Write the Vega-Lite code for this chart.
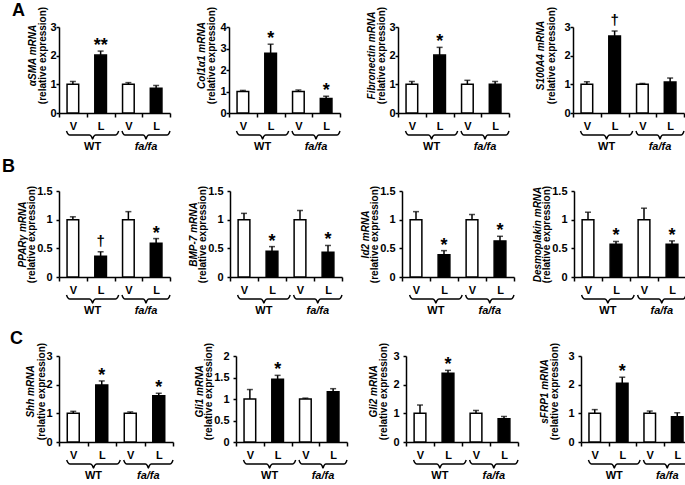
{
  "$schema": "https://vega.github.io/schema/vega-lite/v6.json",
  "background": "white",
  "padding": {"left": 1, "top": 2, "right": 0, "bottom": 0},
  "datasets": {
    "expr": [
      {"panel": "A1", "cond": "WT V", "treat": "V", "mean": 1.0, "upper": 1.1, "sig": ""},
      {"panel": "A1", "cond": "WT L", "treat": "L", "mean": 2.02, "upper": 2.16, "sig": "**"},
      {"panel": "A1", "cond": "fa/fa V", "treat": "V", "mean": 1.0, "upper": 1.06, "sig": ""},
      {"panel": "A1", "cond": "fa/fa L", "treat": "L", "mean": 0.86, "upper": 0.96, "sig": ""},
      {"panel": "A2", "cond": "WT V", "treat": "V", "mean": 1.0, "upper": 1.05, "sig": ""},
      {"panel": "A2", "cond": "WT L", "treat": "L", "mean": 2.78, "upper": 3.2, "sig": "*"},
      {"panel": "A2", "cond": "fa/fa V", "treat": "V", "mean": 1.0, "upper": 1.07, "sig": ""},
      {"panel": "A2", "cond": "fa/fa L", "treat": "L", "mean": 0.68, "upper": 0.78, "sig": "*"},
      {"panel": "A3", "cond": "WT V", "treat": "V", "mean": 1.0, "upper": 1.1, "sig": ""},
      {"panel": "A3", "cond": "WT L", "treat": "L", "mean": 2.02, "upper": 2.29, "sig": "*"},
      {"panel": "A3", "cond": "fa/fa V", "treat": "V", "mean": 1.0, "upper": 1.14, "sig": ""},
      {"panel": "A3", "cond": "fa/fa L", "treat": "L", "mean": 1.0, "upper": 1.1, "sig": ""},
      {"panel": "A4", "cond": "WT V", "treat": "V", "mean": 1.0, "upper": 1.09, "sig": ""},
      {"panel": "A4", "cond": "WT L", "treat": "L", "mean": 2.69, "upper": 2.86, "sig": "†"},
      {"panel": "A4", "cond": "fa/fa V", "treat": "V", "mean": 1.0, "upper": 1.03, "sig": ""},
      {"panel": "A4", "cond": "fa/fa L", "treat": "L", "mean": 1.08, "upper": 1.22, "sig": ""},
      {"panel": "B1", "cond": "WT V", "treat": "V", "mean": 1.0, "upper": 1.05, "sig": ""},
      {"panel": "B1", "cond": "WT L", "treat": "L", "mean": 0.36, "upper": 0.44, "sig": "†"},
      {"panel": "B1", "cond": "fa/fa V", "treat": "V", "mean": 1.0, "upper": 1.14, "sig": ""},
      {"panel": "B1", "cond": "fa/fa L", "treat": "L", "mean": 0.59, "upper": 0.67, "sig": "*"},
      {"panel": "B2", "cond": "WT V", "treat": "V", "mean": 1.0, "upper": 1.11, "sig": ""},
      {"panel": "B2", "cond": "WT L", "treat": "L", "mean": 0.45, "upper": 0.53, "sig": "*"},
      {"panel": "B2", "cond": "fa/fa V", "treat": "V", "mean": 1.0, "upper": 1.16, "sig": ""},
      {"panel": "B2", "cond": "fa/fa L", "treat": "L", "mean": 0.43, "upper": 0.55, "sig": "*"},
      {"panel": "B3", "cond": "WT V", "treat": "V", "mean": 1.0, "upper": 1.14, "sig": ""},
      {"panel": "B3", "cond": "WT L", "treat": "L", "mean": 0.39, "upper": 0.46, "sig": "*"},
      {"panel": "B3", "cond": "fa/fa V", "treat": "V", "mean": 1.0, "upper": 1.09, "sig": ""},
      {"panel": "B3", "cond": "fa/fa L", "treat": "L", "mean": 0.63, "upper": 0.71, "sig": "*"},
      {"panel": "B4", "cond": "WT V", "treat": "V", "mean": 1.0, "upper": 1.13, "sig": ""},
      {"panel": "B4", "cond": "WT L", "treat": "L", "mean": 0.57, "upper": 0.62, "sig": "*"},
      {"panel": "B4", "cond": "fa/fa V", "treat": "V", "mean": 1.0, "upper": 1.2, "sig": ""},
      {"panel": "B4", "cond": "fa/fa L", "treat": "L", "mean": 0.57, "upper": 0.63, "sig": "*"},
      {"panel": "C1", "cond": "WT V", "treat": "V", "mean": 1.0, "upper": 1.07, "sig": ""},
      {"panel": "C1", "cond": "WT L", "treat": "L", "mean": 1.99, "upper": 2.13, "sig": "*"},
      {"panel": "C1", "cond": "fa/fa V", "treat": "V", "mean": 1.0, "upper": 1.05, "sig": ""},
      {"panel": "C1", "cond": "fa/fa L", "treat": "L", "mean": 1.61, "upper": 1.7, "sig": "*"},
      {"panel": "C2", "cond": "WT V", "treat": "V", "mean": 1.0, "upper": 1.22, "sig": ""},
      {"panel": "C2", "cond": "WT L", "treat": "L", "mean": 1.46, "upper": 1.55, "sig": "*"},
      {"panel": "C2", "cond": "fa/fa V", "treat": "V", "mean": 1.0, "upper": 1.02, "sig": ""},
      {"panel": "C2", "cond": "fa/fa L", "treat": "L", "mean": 1.17, "upper": 1.24, "sig": ""},
      {"panel": "C3", "cond": "WT V", "treat": "V", "mean": 1.0, "upper": 1.29, "sig": ""},
      {"panel": "C3", "cond": "WT L", "treat": "L", "mean": 2.4, "upper": 2.5, "sig": "*"},
      {"panel": "C3", "cond": "fa/fa V", "treat": "V", "mean": 1.0, "upper": 1.1, "sig": ""},
      {"panel": "C3", "cond": "fa/fa L", "treat": "L", "mean": 0.81, "upper": 0.89, "sig": ""},
      {"panel": "C4", "cond": "WT V", "treat": "V", "mean": 1.0, "upper": 1.13, "sig": ""},
      {"panel": "C4", "cond": "WT L", "treat": "L", "mean": 2.05, "upper": 2.26, "sig": "*"},
      {"panel": "C4", "cond": "fa/fa V", "treat": "V", "mean": 1.0, "upper": 1.08, "sig": ""},
      {"panel": "C4", "cond": "fa/fa L", "treat": "L", "mean": 0.88, "upper": 1.02, "sig": ""}
    ],
    "brace": [
      {"g": "WT", "bx": 0.27, "d": 0},
      {"g": "WT", "bx": 0.308, "d": 0.3},
      {"g": "WT", "bx": 0.383, "d": 0.5},
      {"g": "WT", "bx": 1.097, "d": 0.5},
      {"g": "WT", "bx": 1.172, "d": 0.7},
      {"g": "WT", "bx": 1.21, "d": 1, "lab": "WT"},
      {"g": "WT", "bx": 1.248, "d": 0.7},
      {"g": "WT", "bx": 1.323, "d": 0.5},
      {"g": "WT", "bx": 2.037, "d": 0.5},
      {"g": "WT", "bx": 2.112, "d": 0.3},
      {"g": "WT", "bx": 2.15, "d": 0},
      {"g": "fa/fa", "bx": 2.27, "d": 0},
      {"g": "fa/fa", "bx": 2.305, "d": 0.3},
      {"g": "fa/fa", "bx": 2.374, "d": 0.5},
      {"g": "fa/fa", "bx": 3.031, "d": 0.5},
      {"g": "fa/fa", "bx": 3.1, "d": 0.7},
      {"g": "fa/fa", "bx": 3.135, "d": 1, "lab": "fa/fa"},
      {"g": "fa/fa", "bx": 3.17, "d": 0.7},
      {"g": "fa/fa", "bx": 3.239, "d": 0.5},
      {"g": "fa/fa", "bx": 3.896, "d": 0.5},
      {"g": "fa/fa", "bx": 3.965, "d": 0.3},
      {"g": "fa/fa", "bx": 4.0, "d": 0}
    ]
  },
  "spacing": 14,
  "vconcat": [
    {
      "spacing": 6,
      "vconcat": [
        {
          "title": {"text": "A", "anchor": "start", "fontSize": 18, "fontWeight": "bold", "offset": -14, "dx": -15},
          "spacing": 23,
          "hconcat": [
            {"width": 111, "height": 86, "resolve": {"scale": {"x": "independent", "y": "independent"}}, "layer": [
              {"data": {"name": "expr"}, "transform": [{"filter": "datum.panel === 'A1'"}],
               "encoding": {"x": {"field": "cond", "type": "nominal", "scale": {"domain": ["WT V", "WT L", "fa/fa V", "fa/fa L"], "paddingInner": 0, "paddingOuter": 0}, "axis": {"title": null, "labelExpr": "slice(datum.label, -1)"}},
                            "y": {"field": "mean", "type": "quantitative", "scale": {"domain": [0, 3]}, "axis": {"title": "(relative expression)", "values": [0, 1, 2, 3], "titleY": 28, "titleX": -17, "labelPadding": 0}}},
               "layer": [
                 {"mark": {"type": "bar", "width": {"band": 0.42}, "stroke": "black", "strokeWidth": 1.5}, "encoding": {"fill": {"field": "treat", "type": "nominal", "scale": {"domain": ["V", "L"], "range": ["white", "black"]}, "legend": null}}},
                 {"mark": {"type": "rule", "strokeWidth": 1.5, "color": "black"}, "encoding": {"y2": {"field": "upper"}}},
                 {"mark": {"type": "tick", "orient": "horizontal", "size": 6, "thickness": 1.5, "color": "black"}, "encoding": {"y": {"field": "upper", "type": "quantitative"}}},
                 {"transform": [{"filter": "datum.sig !== '†'"}], "mark": {"type": "text", "fontSize": 18, "fontWeight": "bold", "baseline": "alphabetic", "dy": 0, "color": "black"}, "encoding": {"y": {"field": "upper", "type": "quantitative"}, "text": {"field": "sig"}}},
                 {"transform": [{"filter": "datum.sig === '†'"}], "mark": {"type": "text", "fontSize": 15, "fontWeight": "bold", "baseline": "alphabetic", "dy": -6, "color": "black"}, "encoding": {"y": {"field": "upper", "type": "quantitative"}, "text": {"field": "sig"}}}
               ]},
              {"data": {"name": "brace"},
               "encoding": {"x": {"field": "bx", "type": "quantitative", "scale": {"domain": [0, 4]}, "axis": null},
                            "y": {"field": "d", "type": "quantitative", "scale": {"domain": [-13, -2.25], "reverse": true}, "axis": {"orient": "left", "title": "αSMA mRNA", "titleFontStyle": "italic", "labels": false, "ticks": false, "domain": false, "titleX": -27, "titleY": 28}}},
               "layer": [
                 {"mark": {"type": "line", "interpolate": "monotone", "color": "black", "strokeWidth": 1.5}, "encoding": {"detail": {"field": "g"}}},
                 {"transform": [{"filter": "datum.lab === 'WT'"}], "mark": {"type": "text", "baseline": "top", "fontSize": 11, "fontWeight": "bold", "color": "black"}, "encoding": {"y": {"datum": 1.25}, "text": {"field": "lab"}}},
                 {"transform": [{"filter": "datum.lab === 'fa/fa'"}], "mark": {"type": "text", "baseline": "top", "fontSize": 11, "fontWeight": "bold", "fontStyle": "italic", "color": "black"}, "encoding": {"y": {"datum": 1.25}, "text": {"field": "lab"}}}
               ]}
            ]},
            {"width": 111, "height": 86, "resolve": {"scale": {"x": "independent", "y": "independent"}}, "layer": [
              {"data": {"name": "expr"}, "transform": [{"filter": "datum.panel === 'A2'"}],
               "encoding": {"x": {"field": "cond", "type": "nominal", "scale": {"domain": ["WT V", "WT L", "fa/fa V", "fa/fa L"], "paddingInner": 0, "paddingOuter": 0}, "axis": {"title": null, "labelExpr": "slice(datum.label, -1)"}},
                            "y": {"field": "mean", "type": "quantitative", "scale": {"domain": [0, 4]}, "axis": {"title": "(relative expression)", "values": [0, 1, 2, 3, 4], "titleY": 28, "titleX": -18, "labelPadding": 0}}},
               "layer": [
                 {"mark": {"type": "bar", "width": {"band": 0.42}, "stroke": "black", "strokeWidth": 1.5}, "encoding": {"fill": {"field": "treat", "type": "nominal", "scale": {"domain": ["V", "L"], "range": ["white", "black"]}, "legend": null}}},
                 {"mark": {"type": "rule", "strokeWidth": 1.5, "color": "black"}, "encoding": {"y2": {"field": "upper"}}},
                 {"mark": {"type": "tick", "orient": "horizontal", "size": 6, "thickness": 1.5, "color": "black"}, "encoding": {"y": {"field": "upper", "type": "quantitative"}}},
                 {"transform": [{"filter": "datum.sig !== '†'"}], "mark": {"type": "text", "fontSize": 18, "fontWeight": "bold", "baseline": "alphabetic", "dy": 0, "color": "black"}, "encoding": {"y": {"field": "upper", "type": "quantitative"}, "text": {"field": "sig"}}},
                 {"transform": [{"filter": "datum.sig === '†'"}], "mark": {"type": "text", "fontSize": 15, "fontWeight": "bold", "baseline": "alphabetic", "dy": -6, "color": "black"}, "encoding": {"y": {"field": "upper", "type": "quantitative"}, "text": {"field": "sig"}}}
               ]},
              {"data": {"name": "brace"},
               "encoding": {"x": {"field": "bx", "type": "quantitative", "scale": {"domain": [0, 4]}, "axis": null},
                            "y": {"field": "d", "type": "quantitative", "scale": {"domain": [-13, -2.25], "reverse": true}, "axis": {"orient": "left", "title": "Col1α1 mRNA", "titleFontStyle": "italic", "labels": false, "ticks": false, "domain": false, "titleX": -28, "titleY": 28}}},
               "layer": [
                 {"mark": {"type": "line", "interpolate": "monotone", "color": "black", "strokeWidth": 1.5}, "encoding": {"detail": {"field": "g"}}},
                 {"transform": [{"filter": "datum.lab === 'WT'"}], "mark": {"type": "text", "baseline": "top", "fontSize": 11, "fontWeight": "bold", "color": "black"}, "encoding": {"y": {"datum": 1.25}, "text": {"field": "lab"}}},
                 {"transform": [{"filter": "datum.lab === 'fa/fa'"}], "mark": {"type": "text", "baseline": "top", "fontSize": 11, "fontWeight": "bold", "fontStyle": "italic", "color": "black"}, "encoding": {"y": {"datum": 1.25}, "text": {"field": "lab"}}}
               ]}
            ]},
            {"width": 111, "height": 86, "resolve": {"scale": {"x": "independent", "y": "independent"}}, "layer": [
              {"data": {"name": "expr"}, "transform": [{"filter": "datum.panel === 'A3'"}],
               "encoding": {"x": {"field": "cond", "type": "nominal", "scale": {"domain": ["WT V", "WT L", "fa/fa V", "fa/fa L"], "paddingInner": 0, "paddingOuter": 0}, "axis": {"title": null, "labelExpr": "slice(datum.label, -1)"}},
                            "y": {"field": "mean", "type": "quantitative", "scale": {"domain": [0, 3]}, "axis": {"title": "(relative expression)", "values": [0, 1, 2, 3], "titleY": 28, "titleX": -17, "labelPadding": 0}}},
               "layer": [
                 {"mark": {"type": "bar", "width": {"band": 0.42}, "stroke": "black", "strokeWidth": 1.5}, "encoding": {"fill": {"field": "treat", "type": "nominal", "scale": {"domain": ["V", "L"], "range": ["white", "black"]}, "legend": null}}},
                 {"mark": {"type": "rule", "strokeWidth": 1.5, "color": "black"}, "encoding": {"y2": {"field": "upper"}}},
                 {"mark": {"type": "tick", "orient": "horizontal", "size": 6, "thickness": 1.5, "color": "black"}, "encoding": {"y": {"field": "upper", "type": "quantitative"}}},
                 {"transform": [{"filter": "datum.sig !== '†'"}], "mark": {"type": "text", "fontSize": 18, "fontWeight": "bold", "baseline": "alphabetic", "dy": 0, "color": "black"}, "encoding": {"y": {"field": "upper", "type": "quantitative"}, "text": {"field": "sig"}}},
                 {"transform": [{"filter": "datum.sig === '†'"}], "mark": {"type": "text", "fontSize": 15, "fontWeight": "bold", "baseline": "alphabetic", "dy": -6, "color": "black"}, "encoding": {"y": {"field": "upper", "type": "quantitative"}, "text": {"field": "sig"}}}
               ]},
              {"data": {"name": "brace"},
               "encoding": {"x": {"field": "bx", "type": "quantitative", "scale": {"domain": [0, 4]}, "axis": null},
                            "y": {"field": "d", "type": "quantitative", "scale": {"domain": [-13, -2.25], "reverse": true}, "axis": {"orient": "left", "title": "Fibronectin mRNA", "titleFontStyle": "italic", "labels": false, "ticks": false, "domain": false, "titleX": -27, "titleY": 28}}},
               "layer": [
                 {"mark": {"type": "line", "interpolate": "monotone", "color": "black", "strokeWidth": 1.5}, "encoding": {"detail": {"field": "g"}}},
                 {"transform": [{"filter": "datum.lab === 'WT'"}], "mark": {"type": "text", "baseline": "top", "fontSize": 11, "fontWeight": "bold", "color": "black"}, "encoding": {"y": {"datum": 1.25}, "text": {"field": "lab"}}},
                 {"transform": [{"filter": "datum.lab === 'fa/fa'"}], "mark": {"type": "text", "baseline": "top", "fontSize": 11, "fontWeight": "bold", "fontStyle": "italic", "color": "black"}, "encoding": {"y": {"datum": 1.25}, "text": {"field": "lab"}}}
               ]}
            ]},
            {"width": 111, "height": 86, "resolve": {"scale": {"x": "independent", "y": "independent"}}, "layer": [
              {"data": {"name": "expr"}, "transform": [{"filter": "datum.panel === 'A4'"}],
               "encoding": {"x": {"field": "cond", "type": "nominal", "scale": {"domain": ["WT V", "WT L", "fa/fa V", "fa/fa L"], "paddingInner": 0, "paddingOuter": 0}, "axis": {"title": null, "labelExpr": "slice(datum.label, -1)"}},
                            "y": {"field": "mean", "type": "quantitative", "scale": {"domain": [0, 3]}, "axis": {"title": "(relative expression)", "values": [0, 1, 2, 3], "titleY": 28, "titleX": -22, "labelPadding": 0}}},
               "layer": [
                 {"mark": {"type": "bar", "width": {"band": 0.42}, "stroke": "black", "strokeWidth": 1.5}, "encoding": {"fill": {"field": "treat", "type": "nominal", "scale": {"domain": ["V", "L"], "range": ["white", "black"]}, "legend": null}}},
                 {"mark": {"type": "rule", "strokeWidth": 1.5, "color": "black"}, "encoding": {"y2": {"field": "upper"}}},
                 {"mark": {"type": "tick", "orient": "horizontal", "size": 6, "thickness": 1.5, "color": "black"}, "encoding": {"y": {"field": "upper", "type": "quantitative"}}},
                 {"transform": [{"filter": "datum.sig !== '†'"}], "mark": {"type": "text", "fontSize": 18, "fontWeight": "bold", "baseline": "alphabetic", "dy": 0, "color": "black"}, "encoding": {"y": {"field": "upper", "type": "quantitative"}, "text": {"field": "sig"}}},
                 {"transform": [{"filter": "datum.sig === '†'"}], "mark": {"type": "text", "fontSize": 15, "fontWeight": "bold", "baseline": "alphabetic", "dy": -6, "color": "black"}, "encoding": {"y": {"field": "upper", "type": "quantitative"}, "text": {"field": "sig"}}}
               ]},
              {"data": {"name": "brace"},
               "encoding": {"x": {"field": "bx", "type": "quantitative", "scale": {"domain": [0, 4]}, "axis": null},
                            "y": {"field": "d", "type": "quantitative", "scale": {"domain": [-13, -2.25], "reverse": true}, "axis": {"orient": "left", "title": "S100A4 mRNA", "titleFontStyle": "italic", "labels": false, "ticks": false, "domain": false, "titleX": -33, "titleY": 28}}},
               "layer": [
                 {"mark": {"type": "line", "interpolate": "monotone", "color": "black", "strokeWidth": 1.5}, "encoding": {"detail": {"field": "g"}}},
                 {"transform": [{"filter": "datum.lab === 'WT'"}], "mark": {"type": "text", "baseline": "top", "fontSize": 11, "fontWeight": "bold", "color": "black"}, "encoding": {"y": {"datum": 1.25}, "text": {"field": "lab"}}},
                 {"transform": [{"filter": "datum.lab === 'fa/fa'"}], "mark": {"type": "text", "baseline": "top", "fontSize": 11, "fontWeight": "bold", "fontStyle": "italic", "color": "black"}, "encoding": {"y": {"datum": 1.25}, "text": {"field": "lab"}}}
               ]}
            ]}
          ]
        },
        {
          "title": {"text": "B", "anchor": "start", "fontSize": 18, "fontWeight": "bold", "offset": 9, "dx": -15},
          "spacing": 14,
          "hconcat": [
            {"width": 111, "height": 86, "resolve": {"scale": {"x": "independent", "y": "independent"}}, "layer": [
              {"data": {"name": "expr"}, "transform": [{"filter": "datum.panel === 'B1'"}],
               "encoding": {"x": {"field": "cond", "type": "nominal", "scale": {"domain": ["WT V", "WT L", "fa/fa V", "fa/fa L"], "paddingInner": 0, "paddingOuter": 0}, "axis": {"title": null, "labelExpr": "slice(datum.label, -1)"}},
                            "y": {"field": "mean", "type": "quantitative", "scale": {"domain": [0, 1.5]}, "axis": {"title": "(relative expression)", "values": [0, 0.5, 1, 1.5], "titleY": 43, "titleX": -28, "labelPadding": 4}}},
               "layer": [
                 {"mark": {"type": "bar", "width": {"band": 0.42}, "stroke": "black", "strokeWidth": 1.5}, "encoding": {"fill": {"field": "treat", "type": "nominal", "scale": {"domain": ["V", "L"], "range": ["white", "black"]}, "legend": null}}},
                 {"mark": {"type": "rule", "strokeWidth": 1.5, "color": "black"}, "encoding": {"y2": {"field": "upper"}}},
                 {"mark": {"type": "tick", "orient": "horizontal", "size": 6, "thickness": 1.5, "color": "black"}, "encoding": {"y": {"field": "upper", "type": "quantitative"}}},
                 {"transform": [{"filter": "datum.sig !== '†'"}], "mark": {"type": "text", "fontSize": 18, "fontWeight": "bold", "baseline": "alphabetic", "dy": 0, "color": "black"}, "encoding": {"y": {"field": "upper", "type": "quantitative"}, "text": {"field": "sig"}}},
                 {"transform": [{"filter": "datum.sig === '†'"}], "mark": {"type": "text", "fontSize": 15, "fontWeight": "bold", "baseline": "alphabetic", "dy": -6, "color": "black"}, "encoding": {"y": {"field": "upper", "type": "quantitative"}, "text": {"field": "sig"}}}
               ]},
              {"data": {"name": "brace"},
               "encoding": {"x": {"field": "bx", "type": "quantitative", "scale": {"domain": [0, 4]}, "axis": null},
                            "y": {"field": "d", "type": "quantitative", "scale": {"domain": [-13, -2.25], "reverse": true}, "axis": {"orient": "left", "title": "PPARγ mRNA", "titleFontStyle": "italic", "labels": false, "ticks": false, "domain": false, "titleX": -37, "titleY": 43}}},
               "layer": [
                 {"mark": {"type": "line", "interpolate": "monotone", "color": "black", "strokeWidth": 1.5}, "encoding": {"detail": {"field": "g"}}},
                 {"transform": [{"filter": "datum.lab === 'WT'"}], "mark": {"type": "text", "baseline": "top", "fontSize": 11, "fontWeight": "bold", "color": "black"}, "encoding": {"y": {"datum": 1.25}, "text": {"field": "lab"}}},
                 {"transform": [{"filter": "datum.lab === 'fa/fa'"}], "mark": {"type": "text", "baseline": "top", "fontSize": 11, "fontWeight": "bold", "fontStyle": "italic", "color": "black"}, "encoding": {"y": {"datum": 1.25}, "text": {"field": "lab"}}}
               ]}
            ]},
            {"width": 112, "height": 86, "resolve": {"scale": {"x": "independent", "y": "independent"}}, "layer": [
              {"data": {"name": "expr"}, "transform": [{"filter": "datum.panel === 'B2'"}],
               "encoding": {"x": {"field": "cond", "type": "nominal", "scale": {"domain": ["WT V", "WT L", "fa/fa V", "fa/fa L"], "paddingInner": 0, "paddingOuter": 0}, "axis": {"title": null, "labelExpr": "slice(datum.label, -1)"}},
                            "y": {"field": "mean", "type": "quantitative", "scale": {"domain": [0, 1.5]}, "axis": {"title": "(relative expression)", "values": [0, 0.5, 1, 1.5], "titleY": 43, "titleX": -28, "labelPadding": 4}}},
               "layer": [
                 {"mark": {"type": "bar", "width": {"band": 0.42}, "stroke": "black", "strokeWidth": 1.5}, "encoding": {"fill": {"field": "treat", "type": "nominal", "scale": {"domain": ["V", "L"], "range": ["white", "black"]}, "legend": null}}},
                 {"mark": {"type": "rule", "strokeWidth": 1.5, "color": "black"}, "encoding": {"y2": {"field": "upper"}}},
                 {"mark": {"type": "tick", "orient": "horizontal", "size": 6, "thickness": 1.5, "color": "black"}, "encoding": {"y": {"field": "upper", "type": "quantitative"}}},
                 {"transform": [{"filter": "datum.sig !== '†'"}], "mark": {"type": "text", "fontSize": 18, "fontWeight": "bold", "baseline": "alphabetic", "dy": 0, "color": "black"}, "encoding": {"y": {"field": "upper", "type": "quantitative"}, "text": {"field": "sig"}}},
                 {"transform": [{"filter": "datum.sig === '†'"}], "mark": {"type": "text", "fontSize": 15, "fontWeight": "bold", "baseline": "alphabetic", "dy": -6, "color": "black"}, "encoding": {"y": {"field": "upper", "type": "quantitative"}, "text": {"field": "sig"}}}
               ]},
              {"data": {"name": "brace"},
               "encoding": {"x": {"field": "bx", "type": "quantitative", "scale": {"domain": [0, 4]}, "axis": null},
                            "y": {"field": "d", "type": "quantitative", "scale": {"domain": [-13, -2.25], "reverse": true}, "axis": {"orient": "left", "title": "BMP-7 mRNA", "titleFontStyle": "italic", "labels": false, "ticks": false, "domain": false, "titleX": -37, "titleY": 43}}},
               "layer": [
                 {"mark": {"type": "line", "interpolate": "monotone", "color": "black", "strokeWidth": 1.5}, "encoding": {"detail": {"field": "g"}}},
                 {"transform": [{"filter": "datum.lab === 'WT'"}], "mark": {"type": "text", "baseline": "top", "fontSize": 11, "fontWeight": "bold", "color": "black"}, "encoding": {"y": {"datum": 1.25}, "text": {"field": "lab"}}},
                 {"transform": [{"filter": "datum.lab === 'fa/fa'"}], "mark": {"type": "text", "baseline": "top", "fontSize": 11, "fontWeight": "bold", "fontStyle": "italic", "color": "black"}, "encoding": {"y": {"datum": 1.25}, "text": {"field": "lab"}}}
               ]}
            ]},
            {"width": 112, "height": 86, "resolve": {"scale": {"x": "independent", "y": "independent"}}, "layer": [
              {"data": {"name": "expr"}, "transform": [{"filter": "datum.panel === 'B3'"}],
               "encoding": {"x": {"field": "cond", "type": "nominal", "scale": {"domain": ["WT V", "WT L", "fa/fa V", "fa/fa L"], "paddingInner": 0, "paddingOuter": 0}, "axis": {"title": null, "labelExpr": "slice(datum.label, -1)"}},
                            "y": {"field": "mean", "type": "quantitative", "scale": {"domain": [0, 1.5]}, "axis": {"title": "(relative expression)", "values": [0, 0.5, 1, 1.5], "titleY": 43, "titleX": -28, "labelPadding": 4}}},
               "layer": [
                 {"mark": {"type": "bar", "width": {"band": 0.42}, "stroke": "black", "strokeWidth": 1.5}, "encoding": {"fill": {"field": "treat", "type": "nominal", "scale": {"domain": ["V", "L"], "range": ["white", "black"]}, "legend": null}}},
                 {"mark": {"type": "rule", "strokeWidth": 1.5, "color": "black"}, "encoding": {"y2": {"field": "upper"}}},
                 {"mark": {"type": "tick", "orient": "horizontal", "size": 6, "thickness": 1.5, "color": "black"}, "encoding": {"y": {"field": "upper", "type": "quantitative"}}},
                 {"transform": [{"filter": "datum.sig !== '†'"}], "mark": {"type": "text", "fontSize": 18, "fontWeight": "bold", "baseline": "alphabetic", "dy": 0, "color": "black"}, "encoding": {"y": {"field": "upper", "type": "quantitative"}, "text": {"field": "sig"}}},
                 {"transform": [{"filter": "datum.sig === '†'"}], "mark": {"type": "text", "fontSize": 15, "fontWeight": "bold", "baseline": "alphabetic", "dy": -6, "color": "black"}, "encoding": {"y": {"field": "upper", "type": "quantitative"}, "text": {"field": "sig"}}}
               ]},
              {"data": {"name": "brace"},
               "encoding": {"x": {"field": "bx", "type": "quantitative", "scale": {"domain": [0, 4]}, "axis": null},
                            "y": {"field": "d", "type": "quantitative", "scale": {"domain": [-13, -2.25], "reverse": true}, "axis": {"orient": "left", "title": "Id2 mRNA", "titleFontStyle": "italic", "labels": false, "ticks": false, "domain": false, "titleX": -37, "titleY": 43}}},
               "layer": [
                 {"mark": {"type": "line", "interpolate": "monotone", "color": "black", "strokeWidth": 1.5}, "encoding": {"detail": {"field": "g"}}},
                 {"transform": [{"filter": "datum.lab === 'WT'"}], "mark": {"type": "text", "baseline": "top", "fontSize": 11, "fontWeight": "bold", "color": "black"}, "encoding": {"y": {"datum": 1.25}, "text": {"field": "lab"}}},
                 {"transform": [{"filter": "datum.lab === 'fa/fa'"}], "mark": {"type": "text", "baseline": "top", "fontSize": 11, "fontWeight": "bold", "fontStyle": "italic", "color": "black"}, "encoding": {"y": {"datum": 1.25}, "text": {"field": "lab"}}}
               ]}
            ]},
            {"width": 112, "height": 86, "resolve": {"scale": {"x": "independent", "y": "independent"}}, "layer": [
              {"data": {"name": "expr"}, "transform": [{"filter": "datum.panel === 'B4'"}],
               "encoding": {"x": {"field": "cond", "type": "nominal", "scale": {"domain": ["WT V", "WT L", "fa/fa V", "fa/fa L"], "paddingInner": 0, "paddingOuter": 0}, "axis": {"title": null, "labelExpr": "slice(datum.label, -1)"}},
                            "y": {"field": "mean", "type": "quantitative", "scale": {"domain": [0, 1.5]}, "axis": {"title": "(relative expression)", "values": [0, 0.5, 1, 1.5], "titleY": 43, "titleX": -28, "labelPadding": 4}}},
               "layer": [
                 {"mark": {"type": "bar", "width": {"band": 0.42}, "stroke": "black", "strokeWidth": 1.5}, "encoding": {"fill": {"field": "treat", "type": "nominal", "scale": {"domain": ["V", "L"], "range": ["white", "black"]}, "legend": null}}},
                 {"mark": {"type": "rule", "strokeWidth": 1.5, "color": "black"}, "encoding": {"y2": {"field": "upper"}}},
                 {"mark": {"type": "tick", "orient": "horizontal", "size": 6, "thickness": 1.5, "color": "black"}, "encoding": {"y": {"field": "upper", "type": "quantitative"}}},
                 {"transform": [{"filter": "datum.sig !== '†'"}], "mark": {"type": "text", "fontSize": 18, "fontWeight": "bold", "baseline": "alphabetic", "dy": 0, "color": "black"}, "encoding": {"y": {"field": "upper", "type": "quantitative"}, "text": {"field": "sig"}}},
                 {"transform": [{"filter": "datum.sig === '†'"}], "mark": {"type": "text", "fontSize": 15, "fontWeight": "bold", "baseline": "alphabetic", "dy": -6, "color": "black"}, "encoding": {"y": {"field": "upper", "type": "quantitative"}, "text": {"field": "sig"}}}
               ]},
              {"data": {"name": "brace"},
               "encoding": {"x": {"field": "bx", "type": "quantitative", "scale": {"domain": [0, 4]}, "axis": null},
                            "y": {"field": "d", "type": "quantitative", "scale": {"domain": [-13, -2.25], "reverse": true}, "axis": {"orient": "left", "title": "Desmoplakin mRNA", "titleFontStyle": "italic", "labels": false, "ticks": false, "domain": false, "titleX": -37, "titleY": 43}}},
               "layer": [
                 {"mark": {"type": "line", "interpolate": "monotone", "color": "black", "strokeWidth": 1.5}, "encoding": {"detail": {"field": "g"}}},
                 {"transform": [{"filter": "datum.lab === 'WT'"}], "mark": {"type": "text", "baseline": "top", "fontSize": 11, "fontWeight": "bold", "color": "black"}, "encoding": {"y": {"datum": 1.25}, "text": {"field": "lab"}}},
                 {"transform": [{"filter": "datum.lab === 'fa/fa'"}], "mark": {"type": "text", "baseline": "top", "fontSize": 11, "fontWeight": "bold", "fontStyle": "italic", "color": "black"}, "encoding": {"y": {"datum": 1.25}, "text": {"field": "lab"}}}
               ]}
            ]}
          ]
        }
      ]
    },
    {
      "title": {"text": "C", "anchor": "start", "fontSize": 18, "fontWeight": "bold", "offset": -6, "dx": -15},
      "spacing": 18,
      "hconcat": [
        {"width": 114, "height": 86, "resolve": {"scale": {"x": "independent", "y": "independent"}}, "layer": [
          {"data": {"name": "expr"}, "transform": [{"filter": "datum.panel === 'C1'"}],
           "encoding": {"x": {"field": "cond", "type": "nominal", "scale": {"domain": ["WT V", "WT L", "fa/fa V", "fa/fa L"], "paddingInner": 0, "paddingOuter": 0}, "axis": {"title": null, "labelExpr": "slice(datum.label, -1)"}},
                        "y": {"field": "mean", "type": "quantitative", "scale": {"domain": [0, 3]}, "axis": {"title": "(relative expression)", "values": [0, 1, 2, 3], "titleY": 35, "titleX": -18, "labelPadding": 4}}},
           "layer": [
             {"mark": {"type": "bar", "width": {"band": 0.42}, "stroke": "black", "strokeWidth": 1.5}, "encoding": {"fill": {"field": "treat", "type": "nominal", "scale": {"domain": ["V", "L"], "range": ["white", "black"]}, "legend": null}}},
             {"mark": {"type": "rule", "strokeWidth": 1.5, "color": "black"}, "encoding": {"y2": {"field": "upper"}}},
             {"mark": {"type": "tick", "orient": "horizontal", "size": 6, "thickness": 1.5, "color": "black"}, "encoding": {"y": {"field": "upper", "type": "quantitative"}}},
             {"transform": [{"filter": "datum.sig !== '†'"}], "mark": {"type": "text", "fontSize": 18, "fontWeight": "bold", "baseline": "alphabetic", "dy": 0, "color": "black"}, "encoding": {"y": {"field": "upper", "type": "quantitative"}, "text": {"field": "sig"}}},
             {"transform": [{"filter": "datum.sig === '†'"}], "mark": {"type": "text", "fontSize": 15, "fontWeight": "bold", "baseline": "alphabetic", "dy": -6, "color": "black"}, "encoding": {"y": {"field": "upper", "type": "quantitative"}, "text": {"field": "sig"}}}
           ]},
          {"data": {"name": "brace"},
           "encoding": {"x": {"field": "bx", "type": "quantitative", "scale": {"domain": [0, 4]}, "axis": null},
                        "y": {"field": "d", "type": "quantitative", "scale": {"domain": [-13, -2.25], "reverse": true}, "axis": {"orient": "left", "title": "Shh mRNA", "titleFontStyle": "italic", "labels": false, "ticks": false, "domain": false, "titleX": -29, "titleY": 35}}},
           "layer": [
             {"mark": {"type": "line", "interpolate": "monotone", "color": "black", "strokeWidth": 1.5}, "encoding": {"detail": {"field": "g"}}},
             {"transform": [{"filter": "datum.lab === 'WT'"}], "mark": {"type": "text", "baseline": "top", "fontSize": 11, "fontWeight": "bold", "color": "black"}, "encoding": {"y": {"datum": 1.25}, "text": {"field": "lab"}}},
             {"transform": [{"filter": "datum.lab === 'fa/fa'"}], "mark": {"type": "text", "baseline": "top", "fontSize": 11, "fontWeight": "bold", "fontStyle": "italic", "color": "black"}, "encoding": {"y": {"datum": 1.25}, "text": {"field": "lab"}}}
           ]}
        ]},
        {"width": 111, "height": 86, "resolve": {"scale": {"x": "independent", "y": "independent"}}, "layer": [
          {"data": {"name": "expr"}, "transform": [{"filter": "datum.panel === 'C2'"}],
           "encoding": {"x": {"field": "cond", "type": "nominal", "scale": {"domain": ["WT V", "WT L", "fa/fa V", "fa/fa L"], "paddingInner": 0, "paddingOuter": 0}, "axis": {"title": null, "labelExpr": "slice(datum.label, -1)"}},
                        "y": {"field": "mean", "type": "quantitative", "scale": {"domain": [0, 2]}, "axis": {"title": "(relative expression)", "values": [0, 0.5, 1, 1.5, 2], "titleY": 35, "titleX": -28, "labelPadding": 4}}},
           "layer": [
             {"mark": {"type": "bar", "width": {"band": 0.42}, "stroke": "black", "strokeWidth": 1.5}, "encoding": {"fill": {"field": "treat", "type": "nominal", "scale": {"domain": ["V", "L"], "range": ["white", "black"]}, "legend": null}}},
             {"mark": {"type": "rule", "strokeWidth": 1.5, "color": "black"}, "encoding": {"y2": {"field": "upper"}}},
             {"mark": {"type": "tick", "orient": "horizontal", "size": 6, "thickness": 1.5, "color": "black"}, "encoding": {"y": {"field": "upper", "type": "quantitative"}}},
             {"transform": [{"filter": "datum.sig !== '†'"}], "mark": {"type": "text", "fontSize": 18, "fontWeight": "bold", "baseline": "alphabetic", "dy": 0, "color": "black"}, "encoding": {"y": {"field": "upper", "type": "quantitative"}, "text": {"field": "sig"}}},
             {"transform": [{"filter": "datum.sig === '†'"}], "mark": {"type": "text", "fontSize": 15, "fontWeight": "bold", "baseline": "alphabetic", "dy": -6, "color": "black"}, "encoding": {"y": {"field": "upper", "type": "quantitative"}, "text": {"field": "sig"}}}
           ]},
          {"data": {"name": "brace"},
           "encoding": {"x": {"field": "bx", "type": "quantitative", "scale": {"domain": [0, 4]}, "axis": null},
                        "y": {"field": "d", "type": "quantitative", "scale": {"domain": [-13, -2.25], "reverse": true}, "axis": {"orient": "left", "title": "Gli1 mRNA", "titleFontStyle": "italic", "labels": false, "ticks": false, "domain": false, "titleX": -37, "titleY": 35}}},
           "layer": [
             {"mark": {"type": "line", "interpolate": "monotone", "color": "black", "strokeWidth": 1.5}, "encoding": {"detail": {"field": "g"}}},
             {"transform": [{"filter": "datum.lab === 'WT'"}], "mark": {"type": "text", "baseline": "top", "fontSize": 11, "fontWeight": "bold", "color": "black"}, "encoding": {"y": {"datum": 1.25}, "text": {"field": "lab"}}},
             {"transform": [{"filter": "datum.lab === 'fa/fa'"}], "mark": {"type": "text", "baseline": "top", "fontSize": 11, "fontWeight": "bold", "fontStyle": "italic", "color": "black"}, "encoding": {"y": {"datum": 1.25}, "text": {"field": "lab"}}}
           ]}
        ]},
        {"width": 112, "height": 86, "resolve": {"scale": {"x": "independent", "y": "independent"}}, "layer": [
          {"data": {"name": "expr"}, "transform": [{"filter": "datum.panel === 'C3'"}],
           "encoding": {"x": {"field": "cond", "type": "nominal", "scale": {"domain": ["WT V", "WT L", "fa/fa V", "fa/fa L"], "paddingInner": 0, "paddingOuter": 0}, "axis": {"title": null, "labelExpr": "slice(datum.label, -1)"}},
                        "y": {"field": "mean", "type": "quantitative", "scale": {"domain": [0, 3]}, "axis": {"title": "(relative expression)", "values": [0, 1, 2, 3], "titleY": 35, "titleX": -23, "labelPadding": 4}}},
           "layer": [
             {"mark": {"type": "bar", "width": {"band": 0.42}, "stroke": "black", "strokeWidth": 1.5}, "encoding": {"fill": {"field": "treat", "type": "nominal", "scale": {"domain": ["V", "L"], "range": ["white", "black"]}, "legend": null}}},
             {"mark": {"type": "rule", "strokeWidth": 1.5, "color": "black"}, "encoding": {"y2": {"field": "upper"}}},
             {"mark": {"type": "tick", "orient": "horizontal", "size": 6, "thickness": 1.5, "color": "black"}, "encoding": {"y": {"field": "upper", "type": "quantitative"}}},
             {"transform": [{"filter": "datum.sig !== '†'"}], "mark": {"type": "text", "fontSize": 18, "fontWeight": "bold", "baseline": "alphabetic", "dy": 0, "color": "black"}, "encoding": {"y": {"field": "upper", "type": "quantitative"}, "text": {"field": "sig"}}},
             {"transform": [{"filter": "datum.sig === '†'"}], "mark": {"type": "text", "fontSize": 15, "fontWeight": "bold", "baseline": "alphabetic", "dy": -6, "color": "black"}, "encoding": {"y": {"field": "upper", "type": "quantitative"}, "text": {"field": "sig"}}}
           ]},
          {"data": {"name": "brace"},
           "encoding": {"x": {"field": "bx", "type": "quantitative", "scale": {"domain": [0, 4]}, "axis": null},
                        "y": {"field": "d", "type": "quantitative", "scale": {"domain": [-13, -2.25], "reverse": true}, "axis": {"orient": "left", "title": "Gli2 mRNA", "titleFontStyle": "italic", "labels": false, "ticks": false, "domain": false, "titleX": -33, "titleY": 35}}},
           "layer": [
             {"mark": {"type": "line", "interpolate": "monotone", "color": "black", "strokeWidth": 1.5}, "encoding": {"detail": {"field": "g"}}},
             {"transform": [{"filter": "datum.lab === 'WT'"}], "mark": {"type": "text", "baseline": "top", "fontSize": 11, "fontWeight": "bold", "color": "black"}, "encoding": {"y": {"datum": 1.25}, "text": {"field": "lab"}}},
             {"transform": [{"filter": "datum.lab === 'fa/fa'"}], "mark": {"type": "text", "baseline": "top", "fontSize": 11, "fontWeight": "bold", "fontStyle": "italic", "color": "black"}, "encoding": {"y": {"datum": 1.25}, "text": {"field": "lab"}}}
           ]}
        ]},
        {"width": 110, "height": 86, "resolve": {"scale": {"x": "independent", "y": "independent"}}, "layer": [
          {"data": {"name": "expr"}, "transform": [{"filter": "datum.panel === 'C4'"}],
           "encoding": {"x": {"field": "cond", "type": "nominal", "scale": {"domain": ["WT V", "WT L", "fa/fa V", "fa/fa L"], "paddingInner": 0, "paddingOuter": 0}, "axis": {"title": null, "labelExpr": "slice(datum.label, -1)"}},
                        "y": {"field": "mean", "type": "quantitative", "scale": {"domain": [0, 3]}, "axis": {"title": "(relative expression)", "values": [0, 1, 2, 3], "titleY": 35, "titleX": -27, "labelPadding": 4}}},
           "layer": [
             {"mark": {"type": "bar", "width": {"band": 0.42}, "stroke": "black", "strokeWidth": 1.5}, "encoding": {"fill": {"field": "treat", "type": "nominal", "scale": {"domain": ["V", "L"], "range": ["white", "black"]}, "legend": null}}},
             {"mark": {"type": "rule", "strokeWidth": 1.5, "color": "black"}, "encoding": {"y2": {"field": "upper"}}},
             {"mark": {"type": "tick", "orient": "horizontal", "size": 6, "thickness": 1.5, "color": "black"}, "encoding": {"y": {"field": "upper", "type": "quantitative"}}},
             {"transform": [{"filter": "datum.sig !== '†'"}], "mark": {"type": "text", "fontSize": 18, "fontWeight": "bold", "baseline": "alphabetic", "dy": 0, "color": "black"}, "encoding": {"y": {"field": "upper", "type": "quantitative"}, "text": {"field": "sig"}}},
             {"transform": [{"filter": "datum.sig === '†'"}], "mark": {"type": "text", "fontSize": 15, "fontWeight": "bold", "baseline": "alphabetic", "dy": -6, "color": "black"}, "encoding": {"y": {"field": "upper", "type": "quantitative"}, "text": {"field": "sig"}}}
           ]},
          {"data": {"name": "brace"},
           "encoding": {"x": {"field": "bx", "type": "quantitative", "scale": {"domain": [0, 4]}, "axis": null},
                        "y": {"field": "d", "type": "quantitative", "scale": {"domain": [-13, -2.25], "reverse": true}, "axis": {"orient": "left", "title": "sFRP1 mRNA", "titleFontStyle": "italic", "labels": false, "ticks": false, "domain": false, "titleX": -37, "titleY": 35}}},
           "layer": [
             {"mark": {"type": "line", "interpolate": "monotone", "color": "black", "strokeWidth": 1.5}, "encoding": {"detail": {"field": "g"}}},
             {"transform": [{"filter": "datum.lab === 'WT'"}], "mark": {"type": "text", "baseline": "top", "fontSize": 11, "fontWeight": "bold", "color": "black"}, "encoding": {"y": {"datum": 1.25}, "text": {"field": "lab"}}},
             {"transform": [{"filter": "datum.lab === 'fa/fa'"}], "mark": {"type": "text", "baseline": "top", "fontSize": 11, "fontWeight": "bold", "fontStyle": "italic", "color": "black"}, "encoding": {"y": {"datum": 1.25}, "text": {"field": "lab"}}}
           ]}
        ]}
      ]
    }
  ],
  "config": {
    "font": "Liberation Sans",
    "view": {"stroke": null},
    "title": {"font": "Liberation Sans", "color": "black"},
    "axis": {"grid": false, "domainColor": "black", "domainWidth": 1.5, "tickColor": "black", "tickWidth": 1.5, "labelColor": "black", "labelFont": "Liberation Sans", "labelFontWeight": "bold", "labelFontSize": 11, "titleColor": "black", "titleFont": "Liberation Sans", "titleFontWeight": "bold", "titleFontSize": 10},
    "axisX": {"labelAngle": 0, "tickBand": "extent", "tickSize": 4, "labelPadding": 3},
    "axisY": {"tickSize": 3, "format": "~g", "titleBaseline": "middle", "titleAngle": -90}
  }
}
